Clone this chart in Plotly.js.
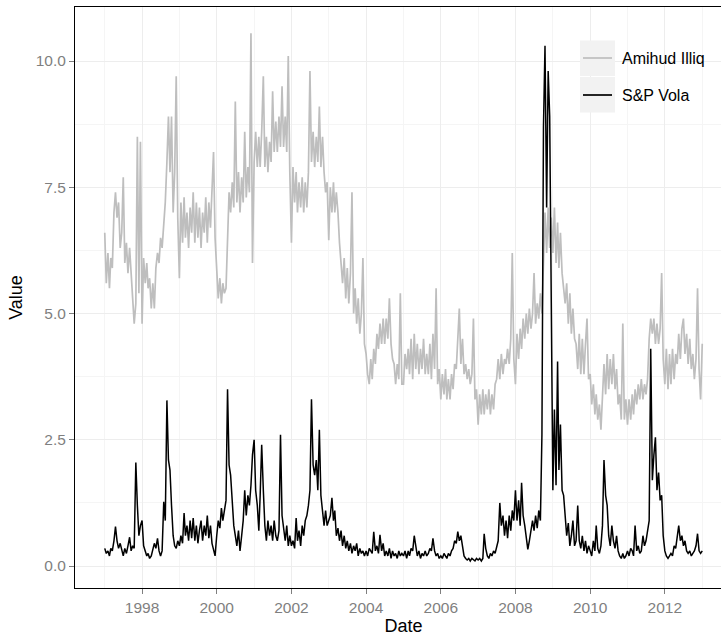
<!DOCTYPE html>
<html><head><meta charset="utf-8">
<script src="https://cdn.plot.ly/plotly-3.0.1.min.js"></script>
<style>html,body{margin:0;padding:0;overflow:hidden;background:#fff}#chart{width:760px;height:637px}</style>
</head><body><div id="chart"></div>
<script>
// Semi-monthly readings (1st and 16th of each month)
const years = [1997,1998,1999,2000,2001,2002,2003,2004,2005,2006,2007,2008,2009,2010,2011,2012];

const amihud1997 = [6.6,5.6,6.2,5.5,6.1,5.9,7.0,7.4,6.9,7.2,6.3,6.6,7.7,6.0,6.4,5.8,6.3,5.7,5.3,4.8,5.2,8.5,5.4,8.4];
const amihud1998 = [4.8,6.1,5.6,6.0,5.5,5.7,5.1,5.6,5.1,5.9,6.2,6.0,6.5,6.3,6.8,7.2,8.0,8.9,7.8,8.9,7.0,7.8,9.7,6.9];
const amihud1999 = [5.7,7.2,6.4,7.3,6.5,7.0,6.3,7.1,6.6,7.4,6.4,7.2,6.5,7.1,6.3,7.0,6.6,7.3,6.4,7.2,6.7,7.4,8.2,6.5];
const amihud2000 = [5.9,5.3,5.7,5.2,5.6,5.4,5.5,6.6,7.4,7.0,7.6,7.1,9.2,7.2,7.8,7.0,7.7,7.2,8.6,7.3,7.9,7.4,10.55,6.0];
const amihud2001 = [8.0,8.6,7.9,8.5,7.9,8.6,9.7,7.9,8.5,7.8,8.4,8.0,9.4,8.2,8.8,8.2,8.9,8.3,9.5,8.3,8.9,8.2,10.1,7.8];
const amihud2002 = [6.4,7.9,7.2,7.8,7.0,7.6,7.1,7.7,7.0,7.6,7.1,7.8,9.8,8.0,8.6,7.9,8.5,8.0,9.1,7.9,8.5,7.8,7.4,7.6];
const amihud2003 = [6.45,7.5,7.0,7.6,7.0,7.4,7.0,6.4,6.0,5.6,6.1,5.3,5.9,5.2,5.8,7.4,5.0,5.5,4.8,5.3,4.6,5.0,6.1,4.4];
const amihud2004 = [4.2,3.8,3.6,4.1,3.7,4.3,4.0,4.6,4.3,4.8,4.4,4.9,4.4,4.9,4.5,5.3,4.4,4.1,4.0,3.6,4.0,3.7,5.4,3.6];
const amihud2005 = [3.6,4.2,3.9,4.3,3.8,4.5,3.7,4.6,3.9,4.4,3.8,4.3,3.9,4.5,3.8,4.2,3.8,4.4,3.7,4.6,3.9,5.5,3.6,3.9];
const amihud2006 = [3.3,3.8,3.4,3.9,3.3,3.7,3.3,3.8,3.5,4.0,3.9,4.4,5.1,4.0,4.5,3.8,4.0,3.7,3.9,3.6,3.8,4.9,3.3,3.5];
const amihud2007 = [2.8,3.4,3.0,3.5,3.0,3.4,3.1,3.5,3.0,3.4,3.1,3.6,3.7,4.1,3.7,4.2,3.8,4.1,4.0,4.3,4.0,4.5,6.2,4.1];
const amihud2008 = [3.6,4.6,4.1,4.7,4.3,4.9,4.5,5.0,4.6,5.1,4.7,5.0,5.8,4.8,5.2,4.9,5.4,5.0,6.0,7.0,6.2,7.1,6.3,6.9];
const amihud2009 = [6.2,7.1,6.0,6.8,5.9,6.6,5.8,5.5,5.2,5.6,4.8,5.4,4.6,5.1,4.5,4.4,3.9,4.6,3.8,4.5,3.8,4.4,4.9,3.7];
const amihud2010 = [3.8,3.2,3.6,3.0,3.4,2.9,3.2,2.7,3.5,4.0,3.4,4.2,3.5,4.1,3.6,4.2,3.5,3.9,3.2,3.4,2.9,4.8,2.9,3.3];
const amihud2011 = [2.8,3.3,2.9,3.4,3.0,3.5,3.2,3.6,3.3,3.7,3.3,3.6,3.4,3.7,4.5,4.9,4.6,4.9,4.4,4.8,4.4,4.7,5.8,4.1];
const amihud2012 = [3.6,4.3,3.5,4.2,3.6,4.3,3.7,4.2,4.0,4.6,4.1,4.7,4.9,4.2,4.6,4.0,4.5,3.9,4.2,3.7,4.1,5.5,3.9,3.3];
const amihudLast = 4.4;   // 2013-01-01

const vola1997 = [0.35,0.25,0.3,0.2,0.35,0.3,0.5,0.78,0.5,0.35,0.45,0.3,0.2,0.35,0.25,0.4,0.57,0.3,0.4,0.35,2.05,1.2,0.6,0.8];
const vola1998 = [0.9,0.4,0.3,0.2,0.25,0.15,0.2,0.3,0.45,0.35,0.55,0.3,0.2,0.3,1.27,0.9,3.28,2.1,1.9,1.2,0.6,0.4,0.35,0.5];
const vola1999 = [0.4,0.6,0.45,1.05,0.6,0.8,0.5,0.9,0.55,0.95,0.5,0.8,0.45,0.7,0.9,0.5,0.8,0.6,1.0,0.55,0.8,0.45,0.3,0.2];
const vola2000 = [0.6,0.9,0.75,1.15,0.9,1.1,1.3,3.5,2.0,1.8,1.3,0.8,0.6,0.4,0.7,0.3,0.6,0.9,1.5,1.0,1.4,1.2,1.6,2.2];
const vola2001 = [2.5,1.5,1.2,0.7,1.4,2.4,1.5,0.8,0.5,0.9,0.6,0.8,0.5,0.9,0.6,0.5,0.7,2.6,1.0,0.7,0.5,0.8,0.4,0.6];
const vola2002 = [0.4,0.5,0.35,0.95,0.5,0.7,0.4,0.8,0.6,0.9,1.0,1.2,1.5,3.3,2.0,1.8,2.1,1.5,2.7,1.4,1.0,0.8,1.1,0.8];
const vola2003 = [0.9,1.0,1.35,0.9,1.1,0.6,0.75,0.5,0.7,0.4,0.6,0.35,0.5,0.3,0.45,0.25,0.4,0.3,0.45,0.2,0.35,0.25,0.3,0.2];
const vola2004 = [0.3,0.2,0.35,0.3,0.25,0.68,0.3,0.4,0.25,0.62,0.3,0.45,0.2,0.3,0.2,0.35,0.15,0.3,0.2,0.25,0.15,0.3,0.2,0.25];
const vola2005 = [0.2,0.3,0.15,0.3,0.2,0.35,0.3,0.6,0.35,0.2,0.3,0.15,0.25,0.2,0.3,0.2,0.25,0.35,0.3,0.55,0.3,0.2,0.25,0.15];
const vola2006 = [0.2,0.15,0.25,0.2,0.15,0.25,0.2,0.3,0.35,0.5,0.45,0.68,0.5,0.6,0.35,0.2,0.15,0.12,0.15,0.1,0.15,0.12,0.1,0.15];
const vola2007 = [0.12,0.15,0.1,0.15,0.64,0.35,0.2,0.15,0.25,0.2,0.3,0.25,0.35,0.5,1.25,0.8,1.0,0.6,0.9,0.55,1.0,0.7,1.1,0.9];
const vola2008 = [1.5,0.9,1.3,0.8,1.65,1.0,0.8,0.6,0.33,0.5,0.7,0.9,0.7,1.0,0.75,1.1,0.9,2.6,8.7,10.3,7.1,9.8,8.9,5.1];
const vola2009 = [1.5,3.1,1.6,4.05,1.9,2.8,1.5,1.4,0.9,0.6,0.85,0.4,0.6,0.9,0.4,0.5,1.2,0.5,0.35,0.6,0.3,0.5,0.25,0.4];
const vola2010 = [0.3,0.2,0.5,0.3,0.8,0.35,0.25,0.4,0.8,2.1,1.4,1.2,0.6,0.4,0.8,0.5,0.35,0.6,0.3,0.2,0.15,0.25,0.15,0.2];
const vola2011 = [0.3,0.2,0.35,0.3,0.2,0.8,0.3,0.4,0.25,0.3,0.6,0.4,0.5,0.7,0.9,4.3,1.7,2.2,2.55,1.5,1.85,1.3,1.4,0.6];
const vola2012 = [0.3,0.2,0.15,0.2,0.25,0.2,0.4,0.35,0.6,0.8,0.5,0.6,0.4,0.5,0.3,0.25,0.3,0.2,0.25,0.3,0.4,0.64,0.3,0.25];
const volaLast = 0.3;     // 2013-01-01

const yTickVals = [0, 2.5, 5, 7.5, 10];
const yTickText = ['0.0', '2.5', '5.0', '7.5', '10.0'];
const seriesNames = ['Amihud Illiq', 'S&P Vola'];

const amihudYears = [amihud1997,amihud1998,amihud1999,amihud2000,amihud2001,amihud2002,amihud2003,amihud2004,amihud2005,amihud2006,amihud2007,amihud2008,amihud2009,amihud2010,amihud2011,amihud2012];
const volaYears = [vola1997,vola1998,vola1999,vola2000,vola2001,vola2002,vola2003,vola2004,vola2005,vola2006,vola2007,vola2008,vola2009,vola2010,vola2011,vola2012];

const dates = [], amihud = [], vola = [];
years.forEach((yr, k) => {
  for (let i = 0; i < 24; i++) {
    const m = String(Math.floor(i / 2) + 1).padStart(2, '0');
    const d = i % 2 ? '16' : '01';
    dates.push(yr + '-' + m + '-' + d);
    amihud.push(amihudYears[k][i]);
    vola.push(volaYears[k][i]);
  }
});
dates.push('2013-01-01'); amihud.push(amihudLast); vola.push(volaLast);

const W = 760, H = 637, ML = 75, MR = 28, MT = 7, MB = 49;
const pw = W - ML - MR, ph = H - MT - MB;
const fx = px => (px - ML) / pw;
const fy = py => (H - MB - py) / ph;

const FONT = 'Liberation Sans, Arial, Helvetica, sans-serif';
const GREY = '#bebebe';

const traces = [
  {x: dates, y: amihud, type: 'scatter', mode: 'lines', name: seriesNames[0],
   line: {color: GREY, width: 1.7}, hoverinfo: 'x+y'},
  {x: dates, y: vola, type: 'scatter', mode: 'lines', name: seriesNames[1],
   line: {color: '#000000', width: 1.5}, hoverinfo: 'x+y'}
];

const layout = {
  width: W, height: H,
  margin: {l: ML, r: MR, t: MT, b: MB},
  paper_bgcolor: '#ffffff', plot_bgcolor: '#ffffff',
  showlegend: false,
  font: {family: FONT},
  xaxis: {
    type: 'date', range: ['1996-03-16', '2013-10-19'],
    tick0: '1998-01-01', dtick: 'M24', tickformat: '%Y',
    ticks: 'outside', ticklen: 5, tickwidth: 1, tickcolor: '#7f7f7f',
    tickfont: {family: FONT, size: 15.5, color: '#7f7f7f'},
    showgrid: true, gridcolor: '#ededed', gridwidth: 1,
    minor: {dtick: 'M12', tick0: '1997-01-01', showgrid: true, gridcolor: '#f5f5f5', ticks: ''},
    showline: true, linecolor: '#000000', linewidth: 1, mirror: true, zeroline: false,
    title: {text: 'Date', font: {family: FONT, size: 18, color: '#000000'}, standoff: 4}
  },
  yaxis: {
    range: [-0.435, 11.07],
    tickvals: yTickVals, ticktext: yTickText,
    ticks: 'outside', ticklen: 5, tickwidth: 1, tickcolor: '#7f7f7f',
    tickfont: {family: FONT, size: 15.5, color: '#7f7f7f'},
    showgrid: true, gridcolor: '#ededed', gridwidth: 1,
    minor: {dtick: 1.25, tick0: 0, showgrid: true, gridcolor: '#f5f5f5', ticks: ''},
    showline: true, linecolor: '#000000', linewidth: 1, mirror: true, zeroline: false,
    title: {text: 'Value', font: {family: FONT, size: 18, color: '#000000'}, standoff: 8}
  },
  shapes: [
    {type: 'rect', xref: 'paper', yref: 'paper', x0: fx(580), x1: fx(615), y0: fy(76), y1: fy(40.5),
     fillcolor: '#f2f2f2', line: {width: 0}, layer: 'above'},
    {type: 'rect', xref: 'paper', yref: 'paper', x0: fx(580), x1: fx(615), y0: fy(112.5), y1: fy(77),
     fillcolor: '#f2f2f2', line: {width: 0}, layer: 'above'},
    {type: 'line', xref: 'paper', yref: 'paper', x0: fx(583), x1: fx(612), y0: fy(58), y1: fy(58),
     line: {color: GREY, width: 1.7}, layer: 'above'},
    {type: 'line', xref: 'paper', yref: 'paper', x0: fx(583), x1: fx(612), y0: fy(95), y1: fy(95),
     line: {color: '#000000', width: 1.7}, layer: 'above'}
  ],
  annotations: [
    {xref: 'paper', yref: 'paper', x: fx(620), y: fy(58), xanchor: 'left', yanchor: 'middle',
     text: seriesNames[0], showarrow: false, font: {family: FONT, size: 16, color: '#000000'}},
    {xref: 'paper', yref: 'paper', x: fx(620), y: fy(95), xanchor: 'left', yanchor: 'middle',
     text: seriesNames[1], showarrow: false, font: {family: FONT, size: 16, color: '#000000'}}
  ]
};

Plotly.newPlot('chart', traces, layout, {displayModeBar: false, staticPlot: true});
</script>
</body></html>
